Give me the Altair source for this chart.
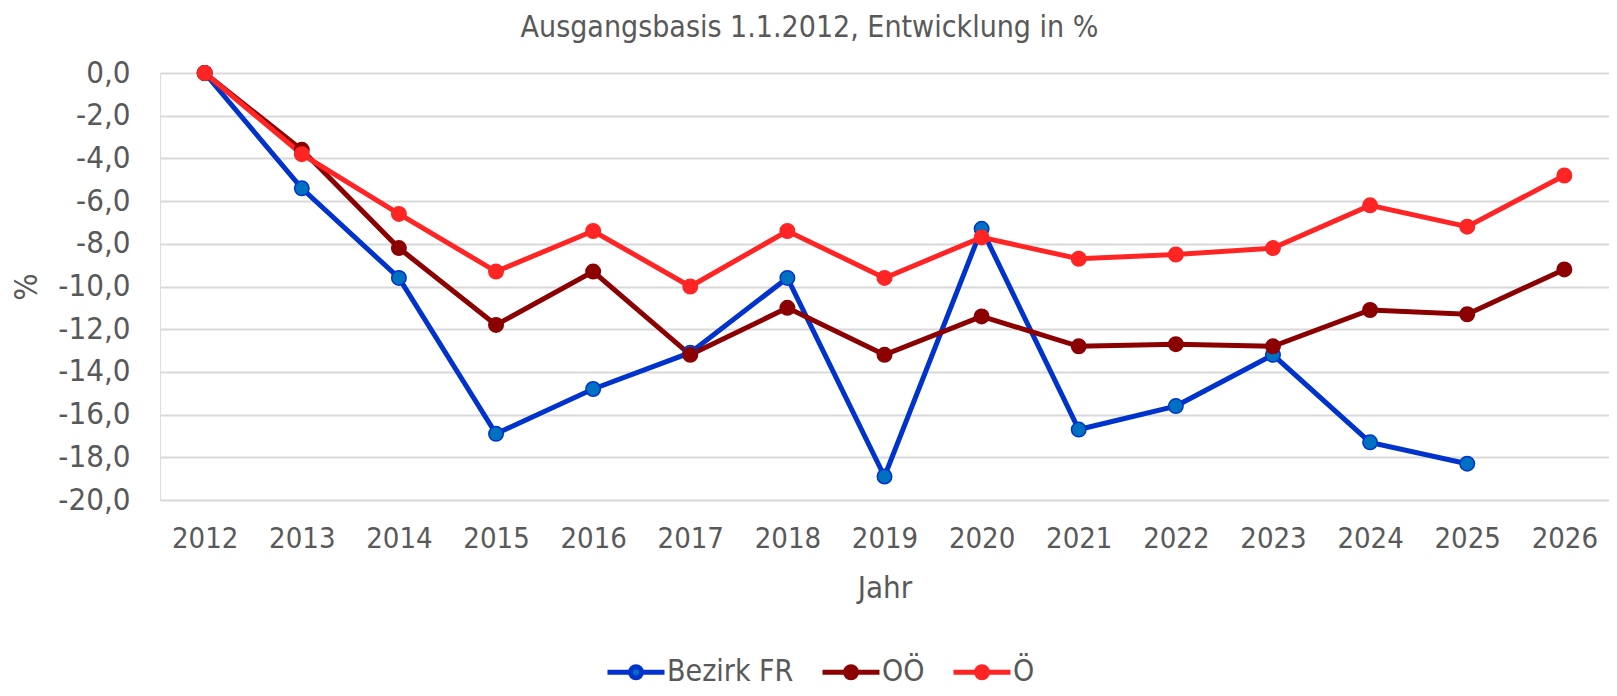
import altair as alt
import pandas as pd

years = ["2012", "2013", "2014", "2015", "2016", "2017", "2018", "2019",
         "2020", "2021", "2022", "2023", "2024", "2025", "2026"]
series_names = ["Bezirk FR", "OÖ", "Ö"]
bezirk_fr = [0.0, -5.4, -9.6, -16.9, -14.8, -13.1, -9.6, -18.9, -7.3,
             -16.7, -15.6, -13.2, -17.3, -18.3, None]
ooe = [0.0, -3.6, -8.2, -11.8, -9.3, -13.2, -11.0, -13.2, -11.4,
       -12.8, -12.7, -12.8, -11.1, -11.3, -9.2]
oe = [0.0, -3.8, -6.6, -9.3, -7.4, -10.0, -7.4, -9.6, -7.7,
      -8.7, -8.5, -8.2, -6.2, -7.2, -4.8]
y_ticks = [-20, -18, -16, -14, -12, -10, -8, -6, -4, -2, 0]

line_colors = ["#0033CC", "#8B0000", "#FF2525"]
marker_fill = ["#0070C0", "#8B0000", "#FF2525"]

rows = []
for name, vals in zip(series_names, [bezirk_fr, ooe, oe]):
    for yr, v in zip(years, vals):
        if v is not None:
            rows.append({"Jahr": yr, "Serie": name, "Wert": v})
df = pd.DataFrame(rows)

FONT = "DejaVu Sans Condensed, Liberation Sans Narrow, DejaVu Sans, sans-serif"
TXT = "#595959"

SYMBOL = ("M-2.85,0H-0.55M0.55,0H2.85"
          "M-0.55,0A0.55,0.55,0,1,1,0.55,0A0.55,0.55,0,1,1,-0.55,0Z")

legend = alt.Legend(
    title=None, orient="none", legendX=461, legendY=584,
    direction="horizontal", columns=3,
    symbolType=SYMBOL, symbolSize=400, symbolStrokeWidth=5, symbolOpacity=1,
    labelFontSize=30, labelFont=FONT, labelColor=TXT,
    labelOffset=16, columnPadding=18, padding=0,
)

stroke_scale = alt.Scale(domain=series_names, range=line_colors)
fill_scale = alt.Scale(domain=series_names, range=marker_fill)

x_enc = alt.X(
    "Jahr:N", sort=years,
    scale=alt.Scale(type="point", padding=0.46),
    axis=alt.Axis(
        title="Jahr", labelAngle=0, ticks=False, domain=False, grid=False,
        labelPadding=24, labelFontSize=29, labelFont=FONT, labelColor=TXT,
        titleFontSize=31, titleFont=FONT, titleColor=TXT, titleFontWeight="normal",
        titleY=97, titleBaseline="alphabetic",
    ),
)
y_enc = alt.Y(
    "Wert:Q",
    scale=alt.Scale(domain=[-20, 0], nice=False, zero=False),
    axis=alt.Axis(
        title="%", values=y_ticks,
        labelExpr="(datum.value < 0 ? '-' : '') + replace(format(abs(datum.value), '.1f'), '.', ',')",
        ticks=False, domain=False, gridColor="#D9D9D9", gridWidth=2,
        labelPadding=30, labelFontSize=31, labelFont=FONT, labelColor=TXT,
        titleFontSize=32, titleFont=FONT, titleColor=TXT, titleFontWeight="normal",
        titleX=-134, titleY=213.5, titleAngle=-90, titleAlign="center",
        titleBaseline="middle",
    ),
)

lines = alt.Chart(df).mark_line(strokeWidth=5).encode(
    x=x_enc, y=y_enc,
    stroke=alt.Stroke("Serie:N", scale=stroke_scale, legend=legend),
    detail="Serie:N",
)
points = alt.Chart(df).mark_point(filled=True, size=210, strokeWidth=1.5, opacity=1).encode(
    x=x_enc, y=y_enc,
    fill=alt.Fill("Serie:N", scale=fill_scale, legend=legend),
    stroke=alt.Stroke("Serie:N", scale=stroke_scale, legend=legend),
)

chart = alt.layer(lines, points).properties(
    width=1449, height=427,
    autosize=alt.AutoSizeParams(type="none"),
    padding={"left": 152, "top": 65, "right": 0, "bottom": 188},
    title=alt.Title(
        "Ausgangsbasis 1.1.2012, Entwicklung in %",
        fontSize=30, font=FONT, color=TXT, fontWeight="normal",
        anchor="middle", frame="bounds", offset=19, baseline="bottom", dy=35,
    ),
).configure_view(stroke=None).configure(background="white")

chart.save("out.html", embed_options={"renderer": "svg", "actions": False})
